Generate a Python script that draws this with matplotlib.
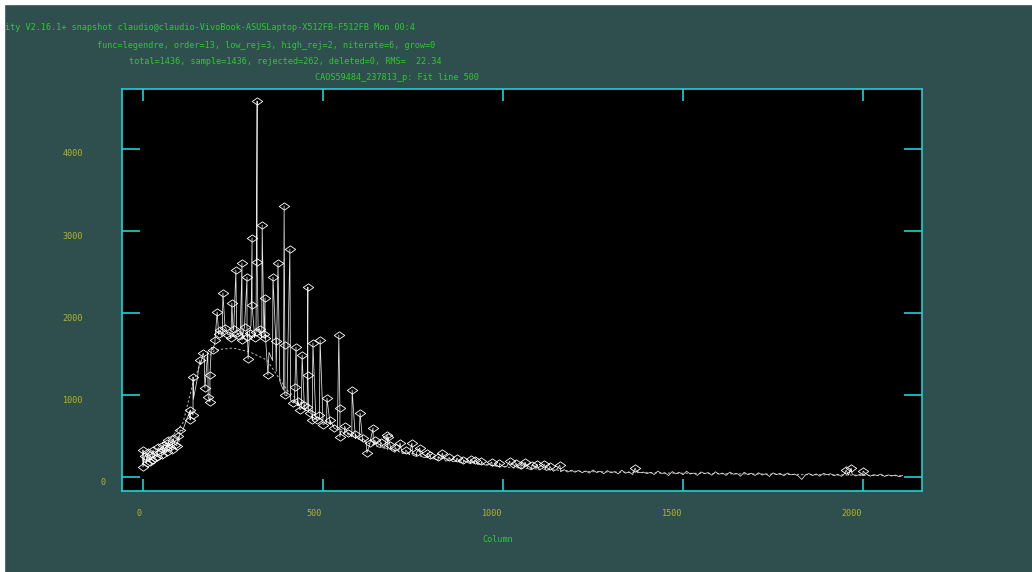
import numpy as np
import matplotlib
matplotlib.use("Agg")
import matplotlib.pyplot as plt
from matplotlib import transforms
from matplotlib.path import Path
from matplotlib.patches import Rectangle

# spectrum values, one every 10 columns (0 .. 2110)
columns = np.arange(0, 2120, 10)
counts = [
    190, 245, 230, 290, 265, 320, 300, 355, 340, 400, 430,
    560, 690, 800, 950, 1180, 1370, 1470, 1530, 1580, 1640,
    1760, 1710, 1820, 1750, 1790, 1840, 1730, 1800, 1760, 1850, 1720, 1780, 1700, 1740,
    1520, 1420, 1290, 1170, 1060, 990, 940, 910, 870, 840, 820,
    790, 760, 735, 700, 690, 660, 640, 610, 575, 560, 530, 510, 490, 470, 455,
    440, 430, 400, 395, 370, 360, 345, 330, 325, 300, 310, 285, 290, 270, 265, 250, 255, 240, 235, 225,
    220, 205, 215, 195, 200, 185, 190, 175, 170, 180, 160, 165, 150, 160, 145, 150, 135, 140, 125, 130,
    125, 140, 108, 128, 96, 122, 100, 88, 118, 84, 106, 78, 100, 70, 96, 64, 90, 60, 84, 58,
    80, 52, 74, 48, 86, 55, 70, 40, 78, 50, 66, 38, 84, 46, 62, 30, 75, 52, 60, 42,
    58, 30, 72, 44, 50, 18, 66, 40, 56, 28, 70, 36, 48, 20, 62, 42, 54, 22, 64, 34,
    48, 20, 60, 34, 44, 10, 58, 28, 46, 18, 52, 24, 40, 6, 50, 30, 44, 14, 48, 26,
    36, 12, -30, 26, 42, 18, 38, 10, 44, 28, 40, 16, 34, 8, 46, 22, 36, 12, 30, 20,
    34, 10, 28, 18, 36, 6, 26, 14, 24, 4, 18,
]

# rejected points (marked with diamonds)
rej_cols = [0, 0, 5, 10, 14, 19, 19, 24, 28, 33, 38, 42, 47, 52, 56, 61, 66, 67, 70, 75, 80,
            84, 89, 94, 98, 103, 131, 131, 139, 139, 158, 167, 172, 181, 186, 186, 194, 200,
            206, 210, 214, 222, 228, 236, 244, 247, 252, 258, 261, 268, 275, 275, 282, 289,
            289, 292, 296, 303, 303, 310, 314, 317, 317, 324, 331, 336, 339, 339, 347, 361,
            369, 375, 392, 394, 394, 408, 417, 422, 425, 430, 436, 442, 448, 456, 458, 458,
            465, 470, 472, 483, 490, 492, 500, 511, 520, 530, 544, 547, 547, 560, 570, 581,
            590, 603, 610, 622, 630, 639, 644, 660, 678, 681, 686, 700, 714, 730, 747, 760,
            769, 790, 797, 820, 831, 850, 872, 890, 911, 922, 940, 969, 990, 1019, 1036,
            1050, 1061, 1080, 1094, 1114, 1130, 1158, 1367, 1953, 1967, 2000]
rej_vals = [329, 122, 260, 170, 300, 268, 183, 210, 330, 232, 250, 360, 305, 270, 390, 354,
            300, 415, 450, 366, 330, 470, 390, 380, 500, 573, 695, 817, 756, 1220, 1427, 1512,
            1085, 976, 915, 1244, 1549, 1671, 2012, 1740, 1793, 2244, 1820, 1732, 1690, 2122,
            1800, 2524, 1756, 1720, 2610, 1671, 1830, 2439, 1707, 1439, 1760, 2915, 2098, 1700,
            1768, 4585, 2622, 1810, 3073, 1740, 2183, 1695, 1244, 2439, 1659, 2610, 3305, 1610,
            1000, 2780, 902, 1098, 1585, 930, 820, 1488, 880, 854, 2317, 1244, 780, 700, 1634,
            695, 760, 1671, 640, 963, 690, 600, 1732, 841, 488, 620, 540, 1061, 520, 780, 470,
            293, 410, 598, 451, 430, 512, 488, 390, 360, 415, 330, 415, 300, 354, 290, 268,
            250, 293, 240, 232, 210, 220, 207, 190, 183, 165, 195, 171, 150, 183, 145, 159,
            159, 130, 146, 110, 85, 110, 73]

# legendre fit
fit_cols = [11, 67, 111, 139, 158, 200, 250, 297, 344, 400, 483, 622, 714, 992, 1200, 1450, 1917, 2108]
fit_vals = [244, 415, 659, 1146, 1366, 1549, 1573, 1524, 1427, 1061, 732, 415, 305, 125, 70, 48, 26, 15]

xticks = [0, 500, 1000, 1500, 2000]
yticks = [0, 1000, 2000, 3000, 4000]

header = [
    "ity V2.16.1+ snapshot claudio@claudio-VivoBook-ASUSLaptop-X512FB-F512FB Mon 00:4",
    "func=legendre, order=13, low_rej=3, high_rej=2, niterate=6, grow=0",
    "total=1436, sample=1436, rejected=262, deleted=0, RMS=  22.34",
    "CAOS59484_237813_p: Fit line 500",
]
header_pos = [(5, 27), (97, 45), (129, 62), (315, 78)]

W, H = 1032, 572
BG = "#2f4f4f"
CYAN = "#1ed2d2"
GREEN = "#2ec82e"
YELLOW = "#b4b424"
MONO = "DejaVu Sans Mono"
FS = 6.1

fig = plt.figure(figsize=(W / 100, H / 100), dpi=100, facecolor=BG)
fig.patches.append(Rectangle((0, 0), 4 / W, 1, transform=fig.transFigure, color="white", zorder=-5))
fig.patches.append(Rectangle((0, 1 - 4 / H), 1, 4 / H, transform=fig.transFigure, color="white", zorder=-5))

ax = fig.add_axes([122 / W, 1 - 491 / H, 800 / W, 402 / H])
ax.set_facecolor("black")
ax.set_xlim(-58.3, 2163.9)
ax.set_ylim(-170.7, 4731.7)

for s in ax.spines.values():
    s.set_color(CYAN)
    s.set_linewidth(1.2)

ax.set_xticks(xticks)
ax.set_yticks(yticks)
ax.tick_params(axis="x", direction="in", length=8.6, width=1.2, color=CYAN,
               top=True, bottom=True, labelbottom=False)
ax.tick_params(axis="y", direction="in", length=13, width=1.2, color=CYAN,
               left=True, right=True, labelleft=False)

# data line passes through the rejected points too
all_cols = np.concatenate([columns, rej_cols])
all_vals = np.concatenate([counts, rej_vals])
order = np.argsort(all_cols, kind="stable")
ax.plot(all_cols[order], all_vals[order], color="#e6e6e6", lw=0.55, zorder=2)

diamond = Path([(-1, 0), (0, 0.7), (1, 0), (0, -0.7), (-1, 0)],
               [Path.MOVETO, Path.LINETO, Path.LINETO, Path.LINETO, Path.CLOSEPOLY])
ax.plot(rej_cols, rej_vals, linestyle="none", marker=diamond, ms=7.5,
        mfc="none", mec="white", mew=0.6, zorder=3)

ax.plot(fit_cols, fit_vals, color="#a8a8a8", lw=0.8, ls=(0, (2, 2)), zorder=1)

# tick labels, placed the way the IRAF screen shows them
xlab_tr = transforms.offset_copy(
    transforms.blended_transform_factory(ax.transData, fig.transFigure),
    fig=fig, x=-1, y=0, units="dots")
for t in xticks:
    fig.text(t, 1 - 514 / H, str(t), transform=xlab_tr, ha="right", va="center",
             color=YELLOW, fontsize=FS, family=MONO)

ylab_tr = transforms.offset_copy(
    transforms.blended_transform_factory(fig.transFigure, ax.transData),
    fig=fig, x=0, y=-5, units="dots")
for t in yticks:
    if t == 0:
        fig.text(103 / W, t, str(t), transform=ylab_tr, ha="center", va="center",
                 color=YELLOW, fontsize=FS, family=MONO)
    else:
        fig.text(83 / W, t, str(t), transform=ylab_tr, ha="right", va="center",
                 color=YELLOW, fontsize=FS, family=MONO)

fig.text(498 / W, 1 - 539 / H, "Column", ha="center", va="center",
         color=GREEN, fontsize=FS, family=MONO)

for line, (px, py) in zip(header, header_pos):
    fig.text(px / W, 1 - py / H, line, ha="left", va="center",
             color=GREEN, fontsize=FS, family=MONO)

fig.savefig("out.png", dpi=100, facecolor=BG)
